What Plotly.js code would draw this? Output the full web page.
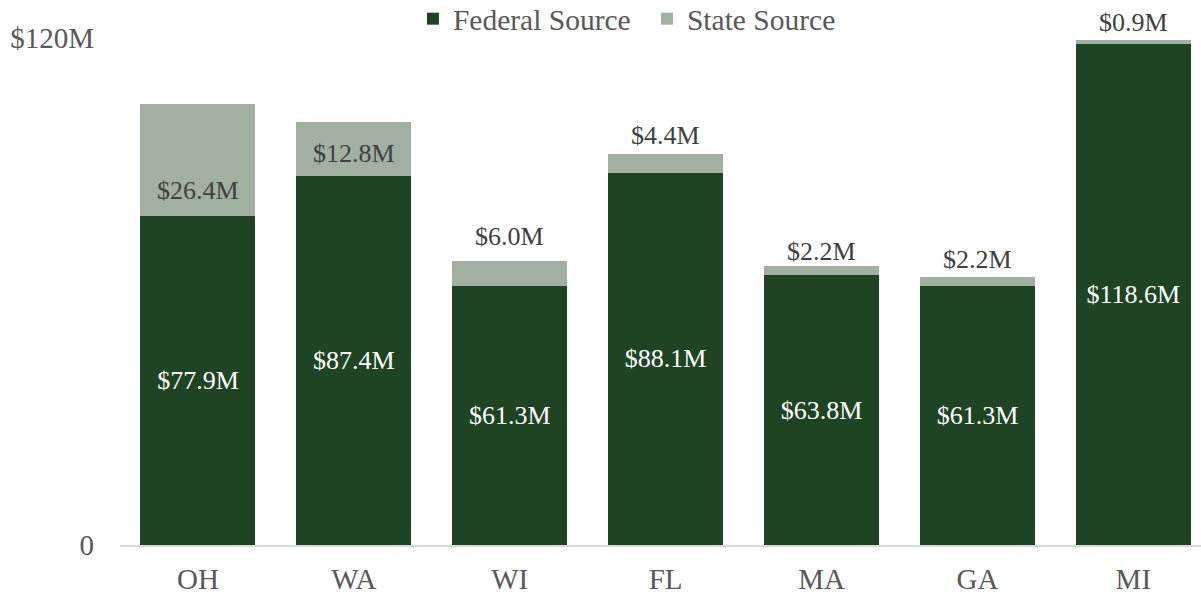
<!DOCTYPE html>
<html>
<head>
<meta charset="utf-8">
<script src="https://cdn.plot.ly/plotly-3.0.1.min.js"></script>
<style>html,body{margin:0;padding:0;background:#fff;}#chart{width:1201px;height:594px;}</style>
</head>
<body>
<div id="chart"></div>
<script>
// Data
const states = ["OH", "WA", "WI", "FL", "MA", "GA", "MI"];
const federalSource = [77.9, 87.4, 61.3, 88.1, 63.8, 61.3, 118.6];
const stateSource = [26.4, 12.8, 6.0, 4.4, 2.2, 2.2, 0.9];
const yTickVals = [0, 120];
const yTickText = ["0", "$120M"];

// Styling (label vertical offsets in px relative to top of stack)
const stateLabelShift = [-86, -32, 24, 19, 15, 17, 18];
const FONT = "'Liberation Serif', 'Times New Roman', Times, serif";
const fedColor = "#1F4424";
const stateColor = "#A1B0A1";

const fmt = v => "$" + v.toFixed(1) + "M";

const traces = [
  {
    type: "bar", name: "Federal Source", x: states, y: federalSource,
    marker: {color: fedColor},
    text: federalSource.map(fmt), textposition: "inside", insidetextanchor: "middle",
    textangle: 0, constraintext: "none",
    insidetextfont: {family: FONT, size: 26, color: "#FFFFFF"},
    hoverinfo: "skip"
  },
  {
    type: "bar", name: "State Source", x: states, y: stateSource,
    marker: {color: stateColor},
    hoverinfo: "skip"
  }
];

const annotations = states.map((s, i) => ({
  x: s, y: federalSource[i] + stateSource[i], xref: "x", yref: "y",
  text: fmt(stateSource[i]), showarrow: false,
  yanchor: "middle", yshift: stateLabelShift[i],
  font: {family: FONT, size: 26, color: "#404040"}
}));

const layout = {
  width: 1201, height: 594,
  margin: {l: 120, r: 0, t: 38, b: 49, autoexpand: false},
  paper_bgcolor: "#FFFFFF", plot_bgcolor: "#FFFFFF",
  barmode: "stack", bargap: 0.262,
  font: {family: FONT, color: "#595959"},
  showlegend: true,
  legend: {
    orientation: "h", x: 0.271, xanchor: "left", y: 1.0375, yanchor: "middle",
    font: {family: FONT, size: 29.5, color: "#595959"},
    traceorder: "normal", itemwidth: 30, entrywidth: 189, bgcolor: "rgba(0,0,0,0)"
  },
  xaxis: {
    type: "category", range: [-0.5, 6.434], showgrid: false, zeroline: false,
    showline: true, linecolor: "#D9D9D9", linewidth: 1.5,
    ticks: "", tickfont: {family: FONT, size: 29, color: "#595959"},
    ticklabelstandoff: 8, fixedrange: true
  },
  yaxis: {
    range: [0, 120], showgrid: false, zeroline: false, showline: false,
    tickvals: yTickVals, ticktext: yTickText, ticks: "",
    tickfont: {family: FONT, size: 29, color: "#595959"},
    ticklabelstandoff: 25, fixedrange: true
  },
  annotations: annotations
};

Plotly.newPlot("chart", traces, layout, {displayModeBar: false, staticPlot: true});
</script>
</body>
</html>
